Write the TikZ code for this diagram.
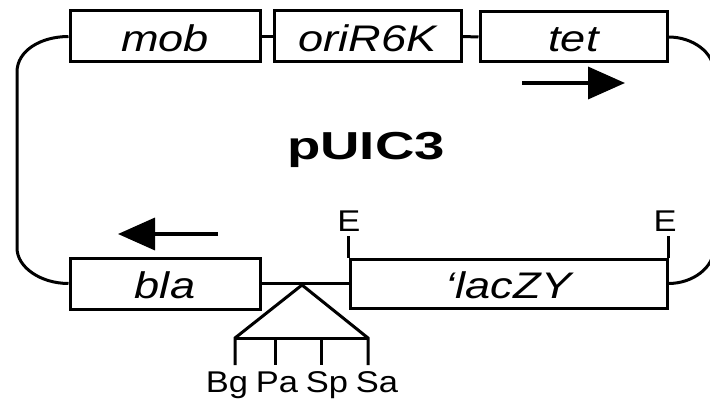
\documentclass[tikz,border=0pt]{standalone}
\usepackage{fontspec}
\setmainfont{Liberation Sans}
\usepackage{graphicx}
\usetikzlibrary{arrows.meta}

\begin{document}
\begin{tikzpicture}[x=1pt,y=-1pt,
  gene/.style={draw, line width=3pt, inner sep=0pt, minimum height=50pt,
    text height=30pt, text depth=0pt,
    font=\fontsize{37}{40}\selectfont\itshape},
  wire/.style={line width=3pt},
  site/.style={font=\fontsize{30}{34}\selectfont, anchor=base, inner sep=0pt},
  dirarrow/.style={line width=3.6pt, -{Triangle[length=37pt,width=32pt]}}
]
\useasboundingbox (0,0) rectangle (710,401);
\clip (0,0) rectangle (710,401);

% gene boxes
\node[gene, minimum width=190pt, minimum height=51pt] (mob) at (165,36.5) {\scalebox{1.22}[1]{mob}};
\node[gene, minimum width=187pt, minimum height=51pt] (ori) at (367.5,36.5) {\scalebox{1.22}[1]{oriR6K}};
\node[gene, minimum width=187pt] (tet) at (573.5,37) {\scalebox{1.22}[1]{tet}};
\node[gene, minimum width=190pt, minimum height=51pt] (bla) at (165,283.5) {\scalebox{1.22}[1]{bla}};
\node[gene, minimum width=317pt, minimum height=49pt] (lac) at (508.5,283.5) {\scalebox{1.22}[1]{‘lacZY}};

% plasmid name
\node[anchor=base, inner sep=0pt, font=\fontsize{39}{44}\selectfont\bfseries] (name) at (366,160) {\scalebox{1.4}[1]{pUIC3}};

% backbone between the top genes
\draw[wire] (mob.east) -- (ori.west);
\draw[wire] (ori.east) -- (tet.west);

% closing arcs of the circular map
\draw[wire] (mob.west) .. controls (40.7,36.5) and (17,50.7) .. (17,72)
  -- (17,248) .. controls (17,267.3) and (40.7,283.5) .. (bla.west);
\draw[wire] (tet.east) .. controls (693,37) and (714,52.7) .. (714,72)
  -- (714,248) .. controls (714,267.3) and (693,283.5) .. (lac.east);

% EcoRI sites
\draw[wire] (lac.north west) -- ++(0,-22) coordinate (e1);
\draw[wire] (lac.north east) -- ++(0,-22) coordinate (e2);
\node[site] (e1lab) at (349,232) {\scalebox{1.15}[1]{E}};
\node[site] (e2lab) at (665,232) {\scalebox{1.15}[1]{E}};

% backbone between bla and lacZY with the polylinker
\draw[wire] (bla.east) -- (lac.west);
\coordinate (apex) at (302,285);
\coordinate (bgpt) at (235,338);
\coordinate (papt) at (275,338);
\coordinate (sppt) at (321,338);
\coordinate (sapt) at (368,338);
\draw[wire, line join=miter] (bgpt) ++(0,27) -- (bgpt) -- (apex) -- (sapt) -- ++(0,27);
\draw[wire] (bgpt) -- (sapt);
\draw[wire] (papt) -- ++(0,27);
\draw[wire] (sppt) -- ++(0,27);
\node[site] (bg) at (227,392) {\scalebox{1.15}[1]{Bg}};
\node[site] (pa) at (277,392) {\scalebox{1.15}[1]{Pa}};
\node[site] (sp) at (327,392) {\scalebox{1.15}[1]{Sp}};
\node[site] (sa) at (377,392) {\scalebox{1.15}[1]{Sa}};

% transcription directions
\coordinate (tetA) at (522,83);
\coordinate (tetB) at (625,83);
\draw[dirarrow] (tetA) -- (tetB);
\coordinate (blaA) at (218,234);
\coordinate (blaB) at (118,234);
\draw[dirarrow] (blaA) -- (blaB);
\end{tikzpicture}
\end{document}
